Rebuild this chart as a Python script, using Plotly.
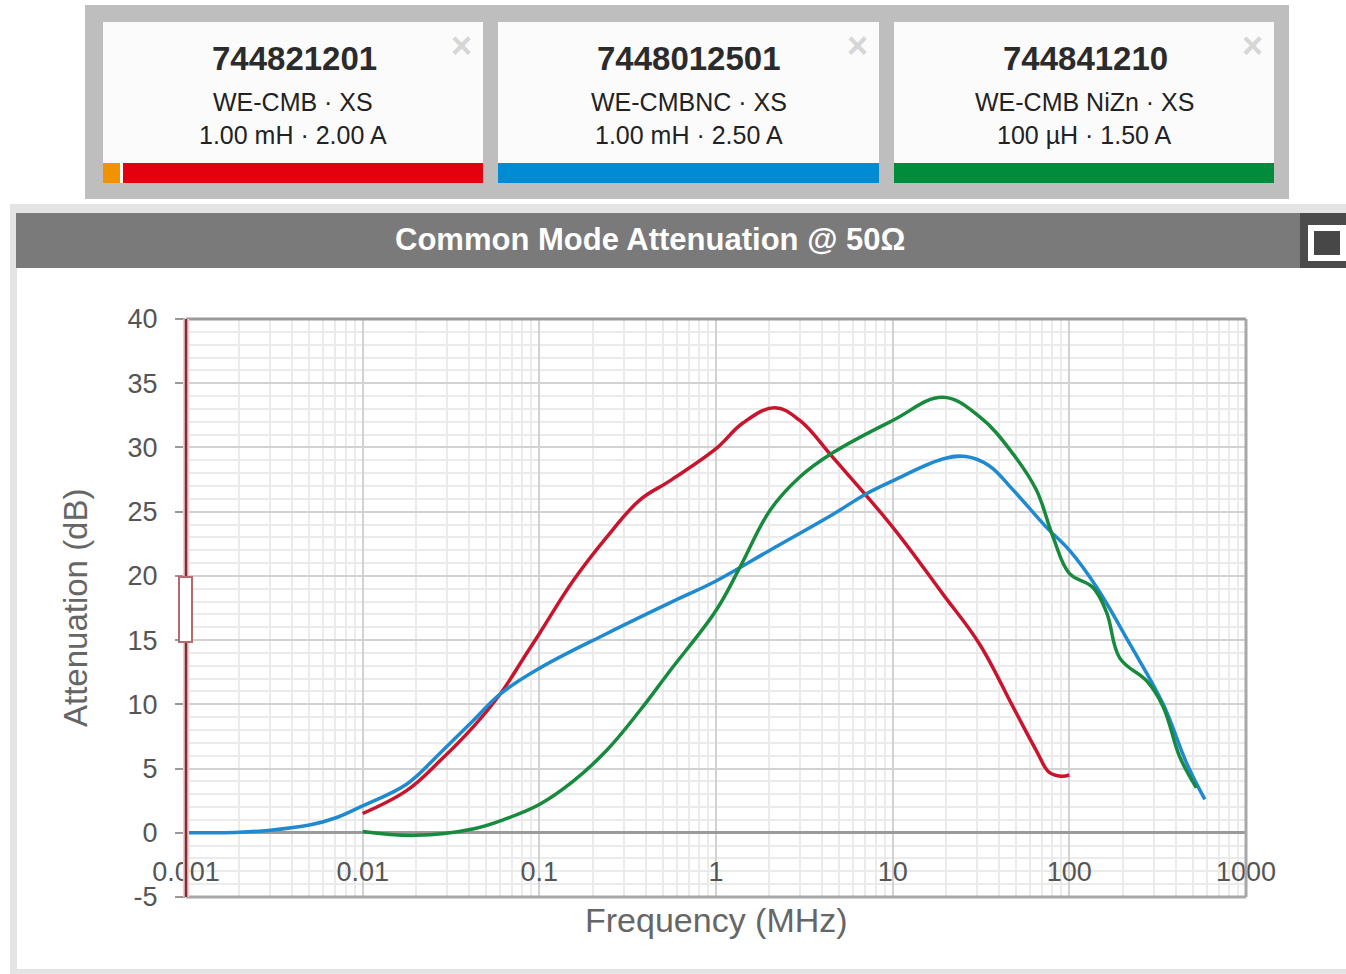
import plotly.graph_objects as go

# ---------------- data ----------------
blue_f = [0.001, 0.002, 0.003, 0.005, 0.007, 0.01, 0.0178, 0.0274, 0.042, 0.06, 0.1, 0.24, 0.548,
          1.0, 2.02, 4.6, 7.1, 10, 19.2, 26, 35, 48, 74, 100, 143, 220, 340, 462, 585]
blue_db = [0, 0.05, 0.2, 0.6, 1.15, 2.1, 3.8, 6.2, 8.7, 10.8, 12.8, 15.5, 17.9,
           19.6, 22.0, 24.8, 26.4, 27.4, 29.1, 29.3, 28.6, 26.7, 23.8, 22.0, 19.1, 14.7, 10.0, 5.4, 2.6]

red_f = [0.01, 0.0178, 0.0274, 0.042, 0.06, 0.085, 0.1, 0.155, 0.24, 0.37, 0.548, 1.0, 1.42, 2.15,
         2.98, 4.6, 10, 19.2, 31, 48, 65, 77, 90, 100]
red_db = [1.5, 3.3, 5.6, 8.2, 10.8, 14.0, 15.5, 19.6, 23.0, 25.9, 27.4, 29.9, 31.9, 33.1,
          32.1, 29.2, 23.8, 18.6, 14.7, 9.8, 6.4, 4.7, 4.4, 4.5]

green_f = [0.01, 0.02, 0.042, 0.065, 0.1, 0.155, 0.24, 0.37, 0.548, 1.0, 1.37, 2.02, 2.98, 4.6,
           10, 19.2, 31, 48, 65, 81, 100, 136, 163, 193, 275, 340, 422, 524]
green_db = [0.1, -0.2, 0.3, 1.1, 2.2, 4.0, 6.4, 9.5, 12.6, 17.3, 20.7, 25.1, 27.7, 29.6,
            32.1, 33.9, 32.4, 29.5, 26.7, 23.0, 20.2, 19.1, 17.1, 13.6, 11.8, 9.8, 5.9, 3.5]

x_tickvals = [0.001, 0.01, 0.1, 1, 10, 100, 1000]
x_ticktext = ["0.001", "0.01", "0.1", "1", "10", "100", "1000"]
y_tickvals = [-5, 0, 5, 10, 15, 20, 25, 30, 35, 40]
y_ticktext = ["-5", "0", "5", "10", "15", "20", "25", "30", "35", "40"]

part_numbers = ["744821201", "7448012501", "744841210"]
part_series = ["WE-CMB · XS", "WE-CMBNC · XS", "WE-CMB NiZn · XS"]
part_specs = ["1.00 mH · 2.00 A", "1.00 mH · 2.50 A", "100 µH · 1.50 A"]
part_colors = ["#e3000f", "#008bd2", "#008c3a"]
line_colors = ["#c8142c", "#1f8ad0", "#178a3e"]

chart_title = "Common Mode Attenuation @ 50Ω"

# ---------------- geometry helpers ----------------
W, H = 1346, 974
def X(px):
    return px / W
def Y(py):
    return 1 - py / H

PL, PR, PT, PB = 186, 1246, 319, 897

FONT = "Liberation Sans, Arial, sans-serif"

fig = go.Figure()
series = [(red_f, red_db, line_colors[0], part_numbers[0]),
          (blue_f, blue_db, line_colors[1], part_numbers[1]),
          (green_f, green_db, line_colors[2], part_numbers[2])]
for fx, fy, col, name in series:
    fig.add_trace(go.Scatter(x=fx, y=fy, mode="lines", name=name,
                             line=dict(color=col, width=3.5, shape="spline", smoothing=1.1),
                             showlegend=False, hoverinfo="x+y"))

shapes = []
def rect(x0, y0, x1, y1, fill, line=None, lw=0, layer="below"):
    shapes.append(dict(type="rect", xref="paper", yref="paper", x0=X(x0), x1=X(x1), y0=Y(y1), y1=Y(y0),
                       fillcolor=fill, line=dict(color=line or fill, width=lw), layer=layer))
def hline(x0, x1, y, color, w, layer="above"):
    shapes.append(dict(type="line", xref="paper", yref="paper", x0=X(x0), x1=X(x1), y0=Y(y), y1=Y(y),
                       line=dict(color=color, width=w), layer=layer))
def vline(x, y0, y1, color, w, layer="above"):
    shapes.append(dict(type="line", xref="paper", yref="paper", x0=X(x), x1=X(x), y0=Y(y0), y1=Y(y1),
                       line=dict(color=color, width=w), layer=layer))

# top card container
rect(85, 5, 1289, 199, "#bebebe")
cards = [(103, 483), (498, 879), (894, 1274)]
annotations = []
for i, (cx0, cx1) in enumerate(cards):
    rect(cx0, 22, cx1, 183, "#fbfbfb")
    if i == 0:
        rect(cx0, 163, 120, 183, "#f39200")
        rect(123, 163, cx1, 183, part_colors[i])
    else:
        rect(cx0, 163, cx1, 183, part_colors[i])
    cxm = (cx0 + cx1) / 2
    annotations.append(dict(x=X(cxm + 1), y=Y(58), xref="paper", yref="paper", text=f"<b>{part_numbers[i]}</b>",
                            showarrow=False, font=dict(family=FONT, size=33, color="#2b2b2b"),
                            xanchor="center", yanchor="middle"))
    annotations.append(dict(x=X(cxm), y=Y(102), xref="paper", yref="paper", text=part_series[i],
                            showarrow=False, font=dict(family=FONT, size=25, color="#222222"),
                            xanchor="center", yanchor="middle"))
    annotations.append(dict(x=X(cxm), y=Y(135), xref="paper", yref="paper", text=part_specs[i],
                            showarrow=False, font=dict(family=FONT, size=25, color="#222222"),
                            xanchor="center", yanchor="middle"))
    annotations.append(dict(x=X(cx1 - 22), y=Y(46), xref="paper", yref="paper", text="<b>×</b>",
                            showarrow=False, font=dict(family=FONT, size=36, color="#d6d6d6"),
                            xanchor="center", yanchor="middle"))

# chart panel
rect(10, 204, 1346, 974, "#e4e4e4")
rect(17, 268, 1346, 969, "#ffffff")
rect(16, 213, 1300, 268, "#7a7a7a")
rect(1300, 213, 1346, 268, "#4b4b4b")
rect(1308, 225, 1346, 261, "#ffffff")
rect(1314, 231, 1340, 255, "#474747")
annotations.append(dict(x=X(650), y=Y(239), xref="paper", yref="paper", text=f"<b>{chart_title}</b>",
                        showarrow=False, font=dict(family=FONT, size=31, color="#ffffff"),
                        xanchor="center", yanchor="middle"))

# frame lines
hline(PL, PR, PT, "#9a9a9a", 3)
hline(PL, PR, PB, "#a8a8a8", 3)
vline(PR, PT, PB, "#a8a8a8", 3)
# y-axis navigator line with handle
vline(PL, PT, PB, "#f2caca", 6)
vline(PL, PT, PB, "#7e2f33", 2.5)
rect(179, 577, 192, 642, "#ffffff", line="#b56a6e", lw=2, layer="above")

# axis titles
annotations.append(dict(x=X(716), y=Y(920), xref="paper", yref="paper", text="Frequency (MHz)",
                        showarrow=False, font=dict(family=FONT, size=34, color="#666666"),
                        xanchor="center", yanchor="middle"))
annotations.append(dict(x=X(75), y=Y(608), xref="paper", yref="paper", text="Attenuation (dB)",
                        showarrow=False, textangle=-90, font=dict(family=FONT, size=33, color="#666666"),
                        xanchor="center", yanchor="middle"))

fig.update_layout(
    width=W, height=H,
    margin=dict(l=0, r=0, t=0, b=0, pad=0, autoexpand=False),
    paper_bgcolor="#ffffff", plot_bgcolor="#ffffff",
    shapes=shapes, annotations=annotations,
    font=dict(family=FONT),
    showlegend=False,
    xaxis=dict(type="log", range=[-3, 3], domain=[X(PL), X(PR)],
               anchor="free", position=Y(853), automargin=False,
               tickvals=x_tickvals, ticktext=x_ticktext,
               tickfont=dict(size=27, color="#555555", family=FONT),
               ticks="", showline=False, zeroline=False,
               showgrid=True, gridcolor="#d2d2d2", gridwidth=1.5,
               minor=dict(dtick="D1", showgrid=True, gridcolor="#ebebeb", gridwidth=1.5)),
    yaxis=dict(range=[-5, 40], domain=[Y(PB), Y(PT)], automargin=False,
               tickvals=y_tickvals, ticktext=y_ticktext,
               ticks="outside", ticklen=10, tickwidth=2, tickcolor="#999999",
               ticklabelstandoff=12,
               tickfont=dict(size=27, color="#555555", family=FONT),
               showline=False, zeroline=True, zerolinecolor="#9a9a9a", zerolinewidth=3,
               showgrid=True, gridcolor="#d2d2d2", gridwidth=1.5,
               minor=dict(dtick=1, showgrid=True, gridcolor="#ebebeb", gridwidth=1.5)),
)

fig.write_html("out.html")
